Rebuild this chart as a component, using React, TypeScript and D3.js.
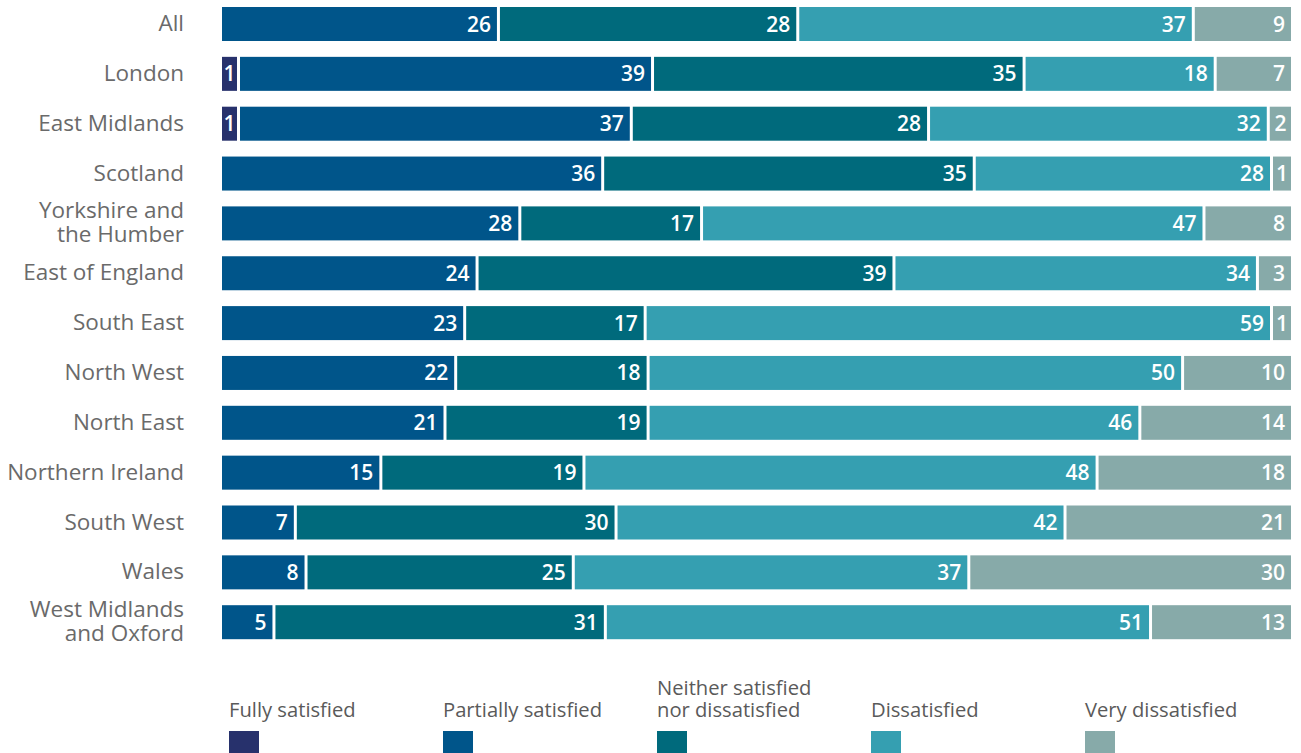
import React from "react";
import * as d3 from "d3";

const regions = [
  "All",
  "London",
  "East Midlands",
  "Scotland",
  "Yorkshire and|the Humber",
  "East of England",
  "South East",
  "North West",
  "North East",
  "Northern Ireland",
  "South West",
  "Wales",
  "West Midlands|and Oxford",
];

const seriesNames = [
  "Fully satisfied",
  "Partially satisfied",
  "Neither satisfied|nor dissatisfied",
  "Dissatisfied",
  "Very dissatisfied",
];

const fully = [0, 1, 1, 0, 0, 0, 0, 0, 0, 0, 0, 0, 0];
const partially = [26, 39, 37, 36, 28, 24, 23, 22, 21, 15, 7, 8, 5];
const neither = [28, 35, 28, 35, 17, 39, 17, 18, 19, 19, 30, 25, 31];
const dissatisfied = [37, 18, 32, 28, 47, 34, 59, 50, 46, 48, 42, 37, 51];
const veryDissatisfied = [9, 7, 2, 1, 8, 3, 1, 10, 14, 18, 21, 30, 13];

const colors = ["#27316c", "#00558a", "#006a7c", "#359fb1", "#87aaa9"];

const W = 1301;
const H = 753;
const left = 222;
const right = 1291;
const top = 7;
const step = 49.85;
const barH = 34;
const gap = 3;
const minW = 18;

export default function App() {
  const series = [fully, partially, neither, dissatisfied, veryDissatisfied];
  const x = d3.scaleLinear().domain([0, 100]).range([left, right]);
  const n = regions.length;
  const y = d3
    .scaleBand<number>()
    .domain(d3.range(n))
    .range([top, top + step * (n - 1) + barH])
    .paddingInner((step - barH) / step)
    .paddingOuter(0)
    .align(0);

  const rows = regions.map((name, i) => {
    const vals = series.map((s) => s[i]);
    const total = d3.sum(vals);
    const full = x(total) - x(0);
    let widths = vals.map((v) => (v > 0 ? x(v) - x(0) : 0));
    const small = widths.map((w, k) => vals[k] > 0 && w < minW);
    const fixed = d3.sum(small.map((s) => (s ? minW : 0)));
    const restRaw = d3.sum(widths.filter((_, k) => !small[k]));
    const k2 = (full - fixed) / restRaw;
    widths = widths.map((w, k) => (small[k] ? minW : w * k2));
    let acc = left;
    const segs = vals.map((v, k) => {
      const x0 = acc;
      acc += widths[k];
      return { v, k, x0, x1: acc };
    });
    return { name, segs: segs.filter((s) => s.v > 0) };
  });

  const fontFam = "'Open Sans', 'Noto Sans', sans-serif";

  return (
    <div style={{ position: "absolute", left: 0, top: 0 }}>
      <svg width={W} height={H} style={{ display: "block" }}>
        {rows.map((r, i) => {
          const yy = y(i)!;
          const cy = yy + barH / 2;
          const lines = r.name.split("|");
          return (
            <g key={i}>
              {lines.map((l, j) => (
                <text
                  key={j}
                  x={184}
                  y={cy + 7 + (lines.length === 1 ? 0 : (j - 0.5) * 24)}
                  textAnchor="end"
                  fontFamily={fontFam}
                  fontSize={22.5}
                  fill="#6a6a6a"
                >
                  {l}
                </text>
              ))}
              {r.segs.map((s, j) => {
                const last = j === r.segs.length - 1;
                const w = s.x1 - s.x0 - (last ? 0 : gap);
                const narrow = w < 28;
                return (
                  <g key={j}>
                    <rect x={s.x0} y={yy} width={w} height={barH} fill={colors[s.k]} />
                    <text
                      x={narrow ? s.x0 + w / 2 : s.x0 + w - 6}
                      y={cy + 7.5}
                      textAnchor={narrow ? "middle" : "end"}
                      fontFamily={fontFam}
                      fontSize={21}
                      fontWeight={600}
                      fill="#fff"
                    >
                      {s.v}
                    </text>
                  </g>
                );
              })}
            </g>
          );
        })}
        {seriesNames.map((nm, k) => {
          const lx = 229 + k * 214;
          const lines = nm.split("|");
          return (
            <g key={k}>
              {lines.map((l, j) => (
                <text
                  key={j}
                  x={lx}
                  y={717 - (lines.length - 1 - j) * 22}
                  fontFamily={fontFam}
                  fontSize={20.2}
                  fill="#5a5a5a"
                >
                  {l}
                </text>
              ))}
              <rect x={lx} y={731} width={30} height={24} fill={colors[k]} />
            </g>
          );
        })}
      </svg>
    </div>
  );
}
